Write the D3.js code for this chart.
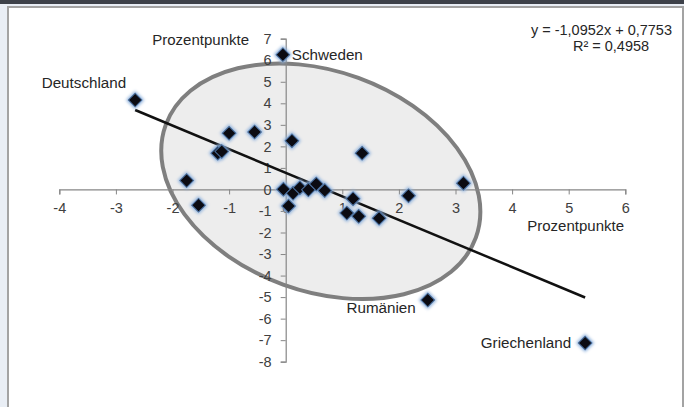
<!DOCTYPE html>
<html>
<head>
<meta charset="utf-8">
<script src="https://cdn.jsdelivr.net/npm/d3@7.9.0/dist/d3.min.js"></script>
<style>
  body { margin: 0; background: #fff; }
  svg { display: block; font-family: "Liberation Sans", Arial, sans-serif; }
  .axis path, .axis line { stroke: #868686; }
  .axis text { fill: #404040; font-size: 14.5px; font-family: "Liberation Sans", Arial, sans-serif; }
</style>
</head>
<body>
<svg id="chart" width="684" height="407"></svg>
<script>
// data
const countries = ['Deutschland', 'Schweden', 'Rumänien', 'Griechenland',
  '', '', '', '', '', '', '', '', '', '', '', '', '', '', '', '', '', '', '', '', ''];
const xValues = [-2.66, -0.05, 2.51, 5.29,
  -1.75, -1.54, -1.20, -1.13, -1.00, -0.55, 0.11, -0.04, 0.13, 0.05, 0.25,
  0.40, 0.54, 0.69, 1.19, 1.08, 1.29, 1.65, 2.17, 3.14, 1.35];
const yValues = [4.15, 6.26, -5.14, -7.13,
  0.41, -0.73, 1.68, 1.76, 2.61, 2.67, 2.26, 0.01, -0.18, -0.77, 0.08,
  -0.02, 0.25, -0.05, -0.43, -1.10, -1.25, -1.34, -0.29, 0.29, 1.68];
const xTicks = [-4, -3, -2, -1, 0, 1, 2, 3, 4, 5, 6];
const yTicks = [-8, -7, -6, -5, -4, -3, -2, -1, 0, 1, 2, 3, 4, 5, 6, 7];
const slope = -1.0952;
const intercept = 0.7753;
const equationText = 'y = -1,0952x + 0,7753';
const rSquaredText = 'R² = 0,4958';
const axisTitle = 'Prozentpunkte';

const points = xValues.map((x, i) => ({ name: countries[i], x: x, y: yValues[i] }));

// label placement (style, not data)
const labelPos = {
  'Deutschland': { dx: -9, dy: -17, anchor: 'end' },
  'Schweden': { dx: 9, dy: 0, anchor: 'start' },
  'Rumänien': { dx: -12, dy: 8, anchor: 'end' },
  'Griechenland': { dx: -14, dy: 0, anchor: 'end' }
};

const svg = d3.select('#chart');

//frame like the spreadsheet screenshot
svg.append('rect').attr('x', 0).attr('y', 0).attr('width', 684).attr('height', 407).attr('fill', '#e9eef5');
svg.append('rect').attr('x', 0).attr('y', 0).attr('width', 684).attr('height', 4).attr('fill', '#3d4149');
svg.append('rect').attr('x', 8).attr('y', 7).attr('width', 675).attr('height', 402)
  .attr('fill', '#fff').attr('stroke', '#a3a3a3').attr('stroke-width', 2);

const x = d3.scaleLinear().domain([-4, 6]).range([59.3, 625.3]);
const y = d3.scaleLinear().domain([-8, 7]).range([361.7, 38.7]);

//ellipse annotation (centre in data units, size in px)
const ell = { cx: 0.62, cy: 0.38, rx: 165, ry: 110, rot: 20 };
svg.append('ellipse')
  .attr('transform', `translate(${x(ell.cx)},${y(ell.cy)}) rotate(${ell.rot})`)
  .attr('rx', ell.rx).attr('ry', ell.ry)
  .attr('fill', '#ededed').attr('stroke', '#7f7f7f').attr('stroke-width', 4);

//axes crossing at zero
svg.append('g').attr('class', 'axis')
  .attr('transform', `translate(0,${y(0)})`)
  .call(d3.axisBottom(x).tickValues(xTicks).tickSize(5).tickPadding(8.5).tickFormat(d3.format('d')));

svg.append('g').attr('class', 'axis')
  .attr('transform', `translate(${x(0)},0)`)
  .call(d3.axisLeft(y).tickValues(yTicks).tickSize(5).tickPadding(9).tickFormat(d3.format('d')));

svg.selectAll('.axis .domain').attr('stroke-width', 1.2);
svg.selectAll('.axis text').text(d => String(d)); // plain hyphen minus like the original

//axis titles
svg.append('text').attr('x', 249).attr('y', 45).attr('text-anchor', 'end')
  .attr('font-size', 15).attr('fill', '#262626').text(axisTitle);
svg.append('text').attr('x', 624).attr('y', 231).attr('text-anchor', 'end')
  .attr('font-size', 15).attr('fill', '#262626').text(axisTitle);

//trend line over the data range
const xr = d3.extent(xValues);
svg.append('line')
  .attr('x1', x(xr[0])).attr('y1', y(slope * xr[0] + intercept))
  .attr('x2', x(xr[1])).attr('y2', y(slope * xr[1] + intercept))
  .attr('stroke', '#111').attr('stroke-width', 2.5);

//glow for the markers
const defs = svg.append('defs');
const f = defs.append('filter').attr('id', 'glow').attr('x', '-50%').attr('y', '-50%').attr('width', '200%').attr('height', '200%');
f.append('feGaussianBlur').attr('stdDeviation', 1.4);

const marker = d3.symbol().type(d3.symbolSquare).size(92);

svg.append('g').selectAll('path.glow').data(points).join('path')
  .attr('class', 'glow')
  .attr('transform', d => `translate(${x(d.x)},${y(d.y)}) rotate(45)`)
  .attr('d', d3.symbol().type(d3.symbolSquare).size(165))
  .attr('fill', '#8db0dc').attr('filter', 'url(#glow)');

svg.append('g').selectAll('path.pt').data(points).join('path')
  .attr('class', 'pt')
  .attr('transform', d => `translate(${x(d.x)},${y(d.y)}) rotate(45)`)
  .attr('d', marker)
  .attr('fill', '#0b0b12').attr('stroke', '#4a6f9e').attr('stroke-width', 1);

//country labels
svg.append('g').selectAll('text').data(points.filter(d => d.name)).join('text')
  .attr('x', d => x(d.x) + labelPos[d.name].dx)
  .attr('y', d => y(d.y) + labelPos[d.name].dy)
  .attr('dy', '0.35em')
  .attr('text-anchor', d => labelPos[d.name].anchor)
  .attr('font-size', 15.2).attr('fill', '#262626')
  .text(d => d.name);

//regression equation
svg.append('text').attr('x', 672).attr('y', 35).attr('text-anchor', 'end')
  .attr('font-size', 14.5).attr('fill', '#262626').text(equationText);
svg.append('text').attr('x', 611).attr('y', 51).attr('text-anchor', 'middle')
  .attr('font-size', 14.5).attr('fill', '#262626').text(rSquaredText);
</script>
</body>
</html>
